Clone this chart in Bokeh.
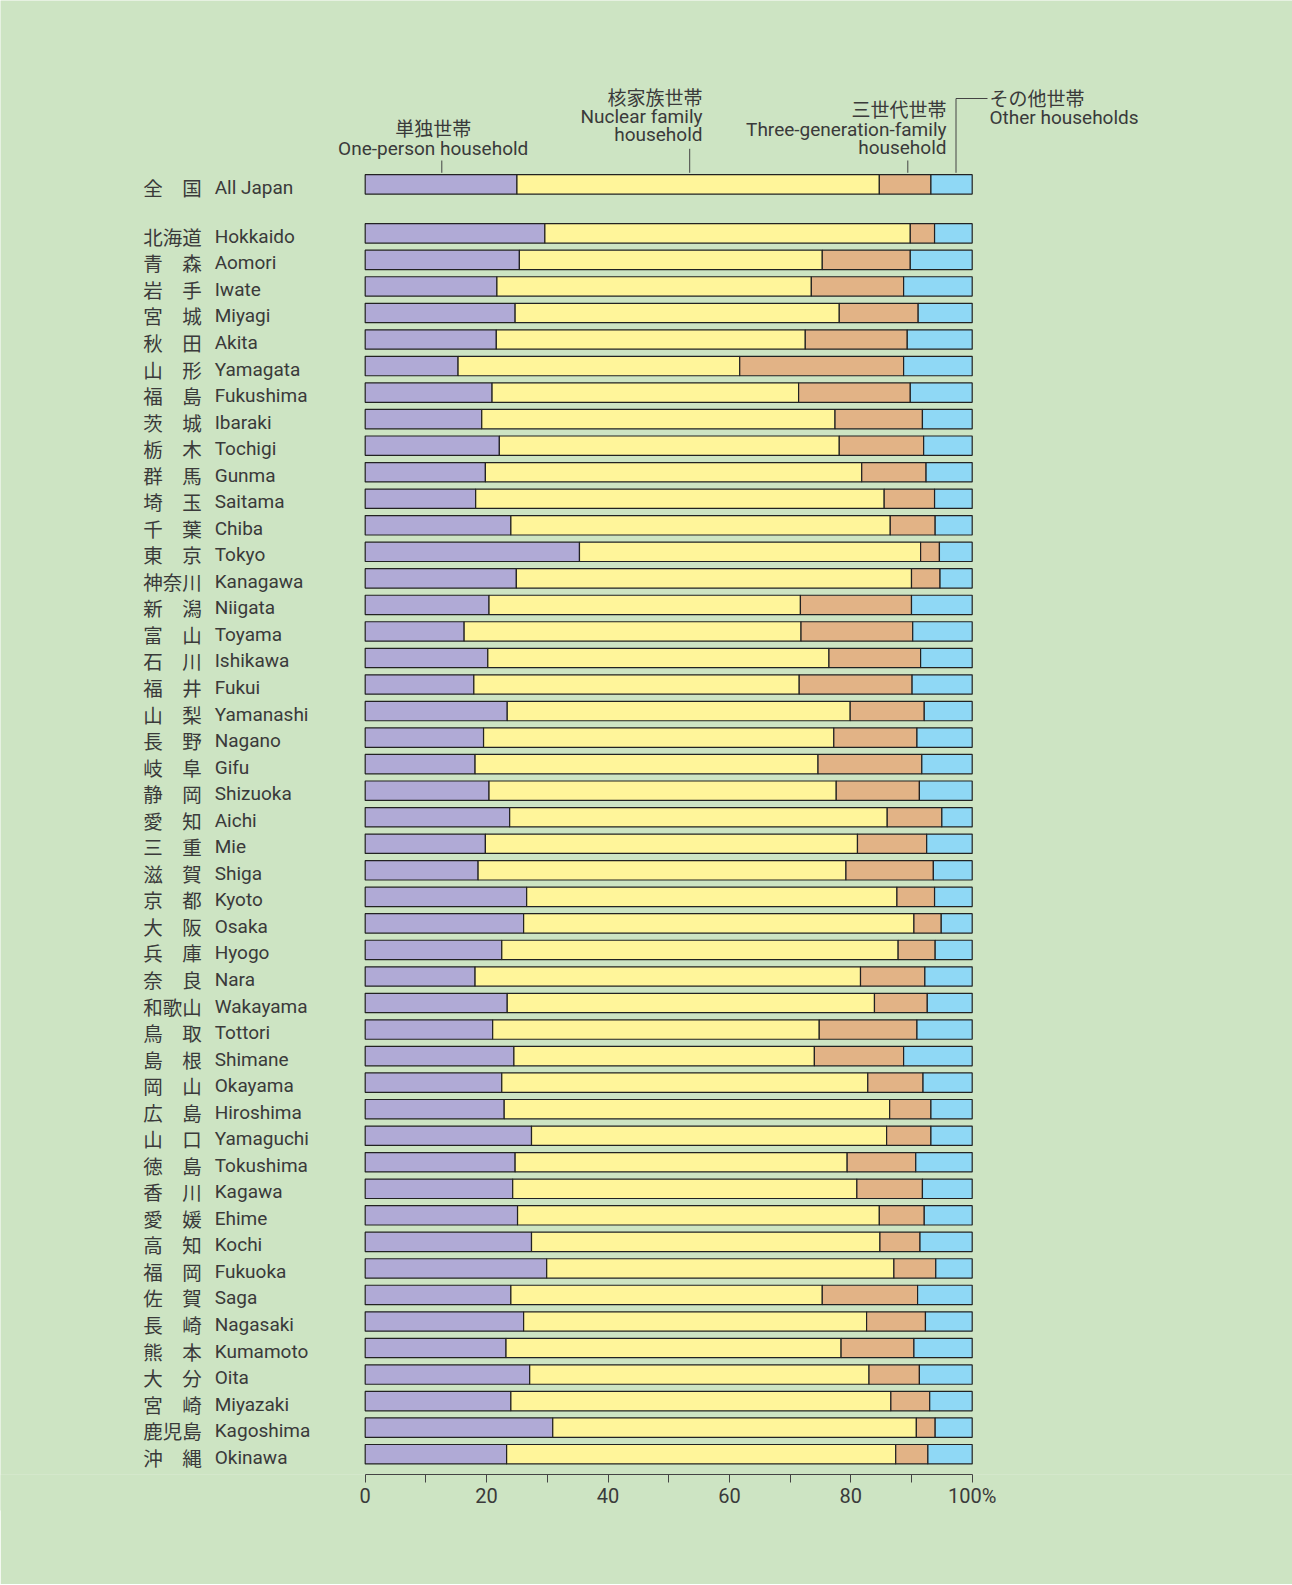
from bokeh.plotting import figure
from bokeh.models import ColumnDataSource, Range1d, FixedTicker
from bokeh.core.properties import value
from bokeh.embed import file_html
from bokeh.resources import INLINE

# ---------------- data ----------------
kanji = ["全\u3000国", "北海道", "青\u3000森", "岩\u3000手", "宮\u3000城", "秋\u3000田", "山\u3000形", "福\u3000島",
         "茨\u3000城", "栃\u3000木", "群\u3000馬", "埼\u3000玉", "千\u3000葉", "東\u3000京", "神奈川",
         "新\u3000潟", "富\u3000山", "石\u3000川", "福\u3000井", "山\u3000梨", "長\u3000野", "岐\u3000阜",
         "静\u3000岡", "愛\u3000知", "三\u3000重", "滋\u3000賀", "京\u3000都", "大\u3000阪", "兵\u3000庫",
         "奈\u3000良", "和歌山", "鳥\u3000取", "島\u3000根", "岡\u3000山", "広\u3000島", "山\u3000口",
         "徳\u3000島", "香\u3000川", "愛\u3000媛", "高\u3000知", "福\u3000岡", "佐\u3000賀", "長\u3000崎",
         "熊\u3000本", "大\u3000分", "宮\u3000崎", "鹿児島", "沖\u3000縄"]
romaji = ["All Japan", "Hokkaido", "Aomori", "Iwate", "Miyagi", "Akita", "Yamagata", "Fukushima",
          "Ibaraki", "Tochigi", "Gunma", "Saitama", "Chiba", "Tokyo", "Kanagawa",
          "Niigata", "Toyama", "Ishikawa", "Fukui", "Yamanashi", "Nagano", "Gifu",
          "Shizuoka", "Aichi", "Mie", "Shiga", "Kyoto", "Osaka", "Hyogo",
          "Nara", "Wakayama", "Tottori", "Shimane", "Okayama", "Hiroshima", "Yamaguchi",
          "Tokushima", "Kagawa", "Ehime", "Kochi", "Fukuoka", "Saga", "Nagasaki",
          "Kumamoto", "Oita", "Miyazaki", "Kagoshima", "Okinawa"]

one_person = [25.0, 29.6, 25.4, 21.7, 24.7, 21.6, 15.3, 20.9,
              19.2, 22.1, 19.8, 18.2, 24.0, 35.3, 24.9,
              20.4, 16.3, 20.2, 17.9, 23.4, 19.5, 18.1,
              20.4, 23.8, 19.8, 18.6, 26.6, 26.1, 22.5,
              18.1, 23.4, 21.0, 24.5, 22.5, 22.9, 27.4,
              24.7, 24.3, 25.1, 27.4, 29.9, 24.0, 26.1,
              23.2, 27.1, 24.0, 30.9, 23.3]
nuclear = [59.7, 60.2, 49.9, 51.8, 53.4, 50.9, 46.4, 50.5,
           58.2, 56.0, 62.0, 67.3, 62.5, 56.2, 65.1,
           51.3, 55.5, 56.2, 53.6, 56.5, 57.7, 56.5,
           57.2, 62.2, 61.3, 60.6, 61.0, 64.3, 65.3,
           63.5, 60.5, 53.8, 49.5, 60.3, 63.5, 58.5,
           54.7, 56.7, 59.6, 57.4, 57.2, 51.3, 56.5,
           55.2, 55.9, 62.6, 59.9, 64.1]
three_gen = [8.5, 4.0, 14.5, 15.2, 13.0, 16.8, 27.0, 18.4,
             14.4, 13.9, 10.6, 8.3, 7.4, 3.1, 4.7,
             18.3, 18.4, 15.1, 18.6, 12.2, 13.7, 17.1,
             13.7, 9.0, 11.4, 14.4, 6.2, 4.5, 6.1,
             10.6, 8.7, 16.1, 14.7, 9.1, 6.8, 7.3,
             11.3, 10.8, 7.4, 6.6, 6.9, 15.7, 9.7,
             12.0, 8.3, 6.4, 3.1, 5.3]
other = [6.8, 6.2, 10.2, 11.3, 8.9, 10.7, 11.3, 10.2,
         8.2, 8.0, 7.6, 6.2, 6.1, 5.4, 5.3,
         10.0, 9.8, 8.5, 9.9, 7.9, 9.1, 8.3,
         8.7, 5.0, 7.5, 6.4, 6.2, 5.1, 6.1,
         7.8, 7.4, 9.1, 11.3, 8.1, 6.8, 6.8,
         9.3, 8.2, 7.9, 8.6, 6.0, 9.0, 7.7,
         9.6, 8.7, 7.0, 6.1, 7.3]

tick_values = [0, 20, 40, 60, 80, 100]
minor_tick_values = [10, 30, 50, 70, 90]
tick_labels = {0: "0", 20: "20", 40: "40", 60: "60", 80: "80", 100: "100%"}

# ---------------- style / layout ----------------
BG = "#cde4c3"
COLORS = ["#b0aad6", "#fff59a", "#e2b386", "#8fd8f5"]
TXT = "#3a3a3a"
W, H = 1292, 1584
X0_PX, PX_PER = 364.7, 6.07          # screen x of 0 %, pixels per %
ROW_PX = 26.54                       # pixels per row
FRAME_H = 1474
GAP_ROWS = 1.846                     # extra space after "All Japan"

ys = [0.0] + [GAP_ROWS + i for i in range(len(kanji) - 1)]
y_bottom = ys[-1] + 0.765
y_top = y_bottom - FRAME_H / ROW_PX
x_start, x_end = -X0_PX / PX_PER, (W - X0_PX) / PX_PER

def dx(page_x):
    return (page_x - X0_PX) / PX_PER

def dy(page_y):
    return page_y / ROW_PX + y_top

p = figure(width=W, height=H, output_backend="svg", toolbar_location=None, tools="",
           x_range=Range1d(x_start, x_end),
           y_range=Range1d(y_bottom, y_top),
           y_axis_location=None, min_border_left=0, min_border_right=0,
           min_border_top=0, min_border_bottom=H - FRAME_H)
p.background_fill_color = BG
p.border_fill_color = BG
p.outline_line_color = None
p.grid.visible = False

src = ColumnDataSource(dict(y=ys, one=one_person, nuc=nuclear, three=three_gen, oth=other,
                            kanji=kanji, romaji=romaji, x0=[0] * len(ys)))
p.hbar_stack(["one", "nuc", "three", "oth"], y="y", height=0.73, color=COLORS,
             line_color="#222222", line_width=1.2, source=src)

p.text(x="x0", y="y", text="kanji", source=src, x_offset=-222, y_offset=3,
       text_font=value("Noto Sans CJK JP"), text_font_size="19.5px",
       text_baseline="middle", text_align="left", text_color=TXT)
p.text(x="x0", y="y", text="romaji", source=src, x_offset=-150.5, y_offset=3,
       text_font=value("Roboto"), text_font_size="19px",
       text_baseline="middle", text_align="left", text_color=TXT)

# x axis
ax = p.xaxis[0]
ax.ticker = FixedTicker(ticks=tick_values, minor_ticks=minor_tick_values)
ax.bounds = (0, 100)
ax.major_label_overrides = tick_labels
ax.axis_line_color = "#444444"
ax.axis_line_width = 1
ax.major_tick_line_color = "#444444"
ax.minor_tick_line_color = "#444444"
ax.major_tick_in = 0
ax.major_tick_out = 8
ax.minor_tick_in = 0
ax.minor_tick_out = 8
ax.major_label_standoff = 1
ax.major_label_text_font = "Roboto"
ax.major_label_text_font_size = "20px"
ax.major_label_text_color = TXT
try:
    ax.background_fill_color = BG
except Exception:
    pass

# header annotations (category key)
def label(txt, px, py, align, font):
    p.text(x=[dx(px)], y=[dy(py)], text=[txt], text_align=align, text_baseline="middle",
           text_font=value(font), text_font_size="19px", text_color=TXT)

label("単独世帯", 432.7, 127.0, "center", "Noto Sans CJK JP")
label("One-person household", 432.7, 148.2, "center", "Roboto")
label("核家族世帯", 702, 95.8, "right", "Noto Sans CJK JP")
label("Nuclear family", 702, 115.8, "right", "Roboto")
label("household", 702, 134.2, "right", "Roboto")
label("三世代世帯", 946, 108.3, "right", "Noto Sans CJK JP")
label("Three-generation-family", 946, 129.0, "right", "Roboto")
label("household", 946, 147.3, "right", "Roboto")
label("その他世帯", 989, 96.5, "left", "Noto Sans CJK JP")
label("Other households", 989, 116.8, "left", "Roboto")

lc = "#444444"
p.segment(x0=[dx(441.3), dx(689.2), dx(907.3), dx(955.5), dx(955.5)],
          y0=[dy(160), dy(148.3), dy(160), dy(172.3), dy(98.0)],
          x1=[dx(441.3), dx(689.2), dx(907.3), dx(955.5), dx(987)],
          y1=[dy(172.3), dy(172.3), dy(172.3), dy(98.0), dy(98.0)],
          line_color=lc, line_width=1)

open("out.html", "w").write(file_html(p, INLINE))
